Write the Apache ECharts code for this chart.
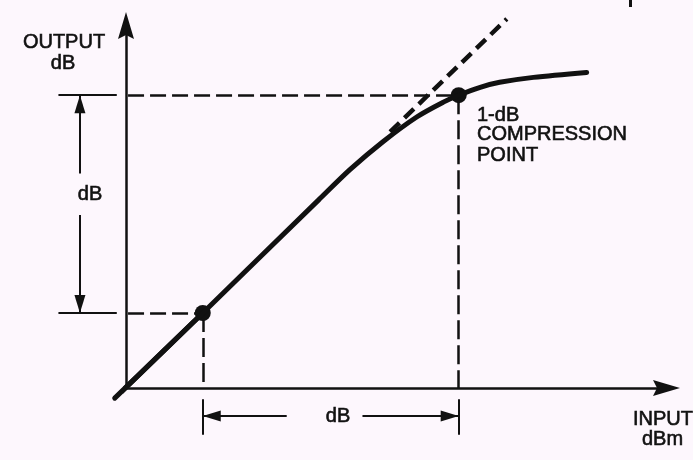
<!DOCTYPE html>
<html>
<head>
<meta charset="utf-8">
<style>
  html, body { margin: 0; padding: 0; background: #fdf7fd; }
  #chart { width: 693px; height: 460px; }
</style>
<script src="https://cdn.jsdelivr.net/npm/echarts@6/dist/echarts.min.js"></script>
</head>
<body>
<div id="chart"></div>
<script>
// transfer curve: input (dBm) -> output (dB)
const curveIn  = [-28.6, -20, -8.7, -5.6, -2.4, 0.9, 3.5, 5, 7.1, 9, 12.3, 17.5];
const curveOut = [-8.6, 0, 11.4, 14.5, 17.3, 19.8, 21.3, 22, 22.8, 23.3, 23.8, 24.3];

// ideal linear (extrapolated) response
const linearIn  = [-1.7, 9.7];
const linearOut = [18.3, 29.7];

// marked points: low-level point and 1-dB compression point
const markIn  = [-20, 5];
const markOut = [0, 22];

// annotation geometry (data units)
const tickLeftIn    = [-34.1, -28.4];
const tickBottomOut = [-8.7, -12.3];
const dimIn  = -32;              // vertical dB dimension
const dimVertFrom = [9.9, 14.1]; // arrow tails (lower, upper)
const dimOut = -10.4;            // horizontal dB dimension
const dimHorFrom = [-11.8, -4.4];

const xMin = -27.5, xMax = 25.3;
const yMin = -7.576, yMax = 29.04;

const ink = '#111';
const axisArrow = 'path://M0,0 L8,27 L0,23 L-8,27 Z';
// tip sits on the line end: bbox padded so the tip is the centre
const dimArrow = 'path://M-18,-18 M18,-18 M0,0 L5.5,18 L-5.5,18 Z';

const guideH = markIn.map((x, i) => ({ coords: [[xMin + 0.2, markOut[i]], [x, markOut[i]]] }));
const guideV = markIn.map((x, i) => ({ coords: [[x, markOut[i]], [x, yMin]] }));
const ticks = markOut.map(y => ({ coords: [[tickLeftIn[0], y], [tickLeftIn[1], y]] }))
  .concat(markIn.map(x => ({ coords: [[x, tickBottomOut[0]], [x, tickBottomOut[1]]] })));
const dims = [
  { coords: [[dimIn, dimVertFrom[0]], [dimIn, markOut[0]]] },
  { coords: [[dimIn, dimVertFrom[1]], [dimIn, markOut[1]]] },
  { coords: [[dimHorFrom[0], dimOut], [markIn[0], dimOut]] },
  { coords: [[dimHorFrom[1], dimOut], [markIn[1], dimOut]] }
];
// the line series stops at the axis corner, so the part of the curve
// below/left of the origin is drawn as a plain segment
const tail = [{ coords: [[curveIn[0], curveOut[0]], [curveIn[1], curveOut[1]]] }];

const chart = echarts.init(document.getElementById('chart'));

function txt(text, x, y, align) {
  return {
    type: 'text',
    x: x, y: y,
    style: {
      text: text,
      fill: ink,
      stroke: ink,
      lineWidth: 0.6,
      font: '20px "Liberation Sans", Arial, sans-serif',
      align: align || 'center',
      verticalAlign: 'middle'
    }
  };
}

chart.setOption({
  animation: false,
  backgroundColor: '#fdf7fd',
  grid: { left: 126, top: 25.5, right: 26.5, bottom: 72, outerBoundsMode: 'none' },
  xAxis: {
    type: 'value', min: xMin, max: xMax,
    axisLine: { show: true, onZero: false, symbol: ['none', axisArrow], symbolSize: [16, 27],
      lineStyle: { color: ink, width: 2.5 } },
    axisTick: { show: false }, axisLabel: { show: false }, splitLine: { show: false }
  },
  yAxis: {
    type: 'value', min: yMin, max: yMax,
    axisLine: { show: true, onZero: false, symbol: ['none', axisArrow], symbolSize: [16, 27],
      lineStyle: { color: ink, width: 2.5 } },
    axisTick: { show: false }, axisLabel: { show: false }, splitLine: { show: false }
  },
  series: [
    {
      type: 'lines', coordinateSystem: 'cartesian2d', clip: false, silent: true,
      data: guideH,
      lineStyle: { color: ink, width: 2.5, type: [16, 6], opacity: 1 }
    },
    {
      type: 'lines', coordinateSystem: 'cartesian2d', clip: false, silent: true,
      data: guideV,
      lineStyle: { color: ink, width: 2.5, type: [19, 6], opacity: 1 }
    },
    {
      type: 'lines', coordinateSystem: 'cartesian2d', clip: false, silent: true,
      data: ticks,
      lineStyle: { color: ink, width: 2, opacity: 1 }
    },
    {
      type: 'lines', coordinateSystem: 'cartesian2d', clip: false, silent: true,
      data: dims,
      symbol: ['none', dimArrow], symbolSize: 36,
      lineStyle: { color: ink, width: 2, opacity: 1 }
    },
    {
      name: 'linear', type: 'line', clip: false, silent: true, showSymbol: false,
      data: linearIn.map((x, i) => [x, linearOut[i]]),
      lineStyle: { color: ink, width: 4.5, type: [13, 7] }
    },
    {
      name: 'response', type: 'line', clip: false, silent: true, showSymbol: false,
      smooth: 0.3,
      data: curveIn.map((x, i) => [x, curveOut[i]]),
      lineStyle: { color: ink, width: 5, cap: 'round' }
    },
    {
      type: 'lines', coordinateSystem: 'cartesian2d', clip: false, silent: true,
      data: tail,
      lineStyle: { color: ink, width: 5, cap: 'round', opacity: 1 }
    },
    {
      type: 'scatter', clip: false, silent: true, symbolSize: 16,
      data: markIn.map((x, i) => [x, markOut[i]]),
      itemStyle: { color: ink, opacity: 1 }
    }
  ],
  graphic: [
    txt('OUTPUT', 64, 42),
    txt('dB', 63, 63),
    txt('dB', 90, 194),
    txt('1-dB', 477, 115, 'left'),
    txt('COMPRESSION', 477, 134, 'left'),
    txt('POINT', 477, 155, 'left'),
    txt('dB', 338, 416),
    txt('INPUT', 633, 419, 'left'),
    txt('dBm', 642, 439, 'left'),
    { type: 'rect', shape: { x: 629, y: 0, width: 3, height: 7 }, style: { fill: ink } }
  ]
});
</script>
</body>
</html>
